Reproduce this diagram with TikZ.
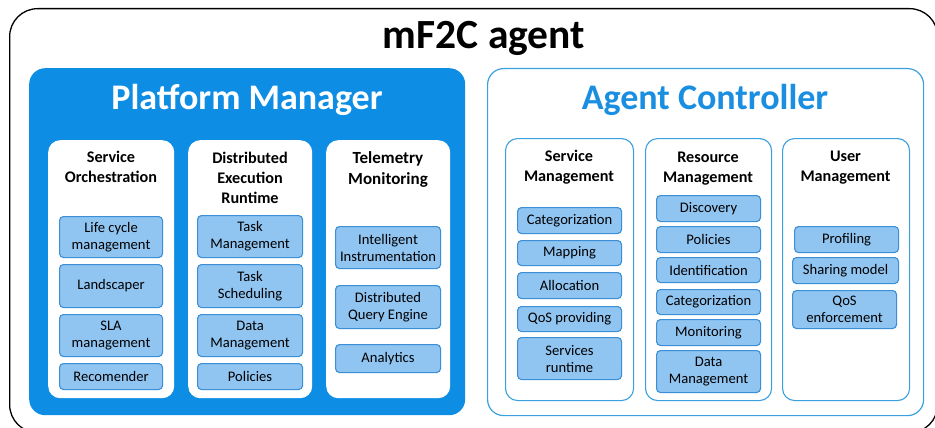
\documentclass[tikz,border=0pt]{standalone}
\usepackage{fontspec}
\setmainfont{Carlito}
\definecolor{pmblue}{HTML}{0E8DE4}
\definecolor{acblue}{HTML}{3AA0DE}
\definecolor{actext}{HTML}{1A8FE2}
\definecolor{ifill}{HTML}{90C4F1}
\definecolor{iborder}{HTML}{3A8FD6}
\begin{document}
\begin{tikzpicture}[x=1pt,y=-1pt,
  outerbox/.style={draw=black,line width=1.3pt,rounded corners=28pt,anchor=north west,inner sep=0pt},
  pmbox/.style={fill=pmblue,draw=none,rounded corners=16pt,anchor=north west,inner sep=0pt},
  acbox/.style={draw=acblue,line width=1.2pt,fill=white,rounded corners=16pt,anchor=north west,inner sep=0pt},
  pmpanel/.style={fill=white,draw=none,rounded corners=12pt,anchor=north west,inner sep=0pt,minimum width=126pt,minimum height=258pt},
  acpanel/.style={fill=white,draw=acblue,line width=1.1pt,rounded corners=12pt,anchor=north west,inner sep=0pt,minimum height=262pt},
  ibox/.style={fill=ifill,draw=iborder,line width=1.1pt,rounded corners=4pt,anchor=north west,inner sep=0pt,align=center,font=\fontsize{14.6}{17}\selectfont},
  ptitle/.style={align=center,font=\bfseries\fontsize{16.2}{20}\selectfont,inner sep=0pt}
]
\useasboundingbox (0,0) rectangle (935,428);
\node[outerbox,minimum width=928pt,minimum height=424pt] (outer) at (9,8) {};
\node[font=\bfseries\fontsize{41.5}{42}\selectfont,inner sep=0pt] (t) at (484,38) {mF2C agent};

% Platform Manager
\node[pmbox,minimum width=436pt,minimum height=347pt] (pm) at (29,68) {};
\node[font=\bfseries\fontsize{36}{38}\selectfont,text=white,inner sep=0pt] (pmt) at (247,100) {Platform Manager};
\node[pmpanel] (so) at (48,140) {};
\node[pmpanel,minimum width=124pt] (der) at (188,140) {};
\node[pmpanel,minimum width=124pt] (tmon) at (326,140) {};
\node[ptitle] (sot) at (111,167) {Service\\Orchestration};
\node[ptitle] (dert) at (250,178) {Distributed\\Execution\\Runtime};
\node[ptitle,font=\bfseries\fontsize{17}{21}\selectfont] (tmt) at (388,169.5) {Telemetry\\Monitoring};

\node[ibox,minimum width=103pt,minimum height=41pt] (lc) at (59,216) {Life cycle\\management};
\node[ibox,minimum width=103pt,minimum height=43pt] (land) at (59,264) {Landscaper};
\node[ibox,minimum width=103pt,minimum height=42pt] (sla) at (59,314) {SLA\\management};
\node[ibox,minimum width=103pt,minimum height=26pt] (rec) at (59,363) {Recomender};

\node[ibox,minimum width=105pt,minimum height=42pt] (tm) at (197,215) {Task\\Management};
\node[ibox,minimum width=105pt,minimum height=43pt] (ts) at (197,264) {Task\\Scheduling};
\node[ibox,minimum width=105pt,minimum height=42pt] (dm) at (197,314) {Data\\Management};
\node[ibox,minimum width=105pt,minimum height=26pt] (pol) at (197,363) {Policies};

\node[ibox,minimum width=105pt,minimum height=42pt] (ii) at (335,226) {Intelligent\\Instrumentation};
\node[ibox,minimum width=105pt,minimum height=43pt] (dqe) at (335,285) {Distributed\\Query Engine};
\node[ibox,minimum width=105pt,minimum height=28pt] (ana) at (335,344) {Analytics};

% Agent Controller
\node[acbox,minimum width=436pt,minimum height=347pt] (ac) at (487,68) {};
\node[font=\bfseries\fontsize{36}{38}\selectfont,text=actext,inner sep=0pt] (act) at (705,100) {Agent Controller};
\node[acpanel,minimum width=128pt] (sm) at (505,138) {};
\node[acpanel,minimum width=126pt] (rm) at (645,138) {};
\node[acpanel,minimum width=127pt] (um) at (782,138) {};
\node[ptitle] (smt) at (569,167) {Service\\Management};
\node[ptitle] (rmt) at (708,168.5) {Resource\\Management};
\node[ptitle] (umt) at (845.5,167.5) {User\\Management};

\node[ibox,minimum width=104pt,minimum height=26pt] (cat) at (517,207) {Categorization};
\node[ibox,minimum width=104pt,minimum height=25pt] (map) at (517,240) {Mapping};
\node[ibox,minimum width=104pt,minimum height=26pt] (alloc) at (517,272) {Allocation};
\node[ibox,minimum width=104pt,minimum height=25pt] (qos) at (517,306) {QoS providing};
\node[ibox,minimum width=104pt,minimum height=42pt] (sr) at (517,337) {Services\\runtime};

\node[ibox,minimum width=104pt,minimum height=26pt] (disc) at (656,195) {Discovery};
\node[ibox,minimum width=104pt,minimum height=26pt] (pol2) at (656,226) {Policies};
\node[ibox,minimum width=104pt,minimum height=25pt] (ident) at (656,257) {Identification};
\node[ibox,minimum width=104pt,minimum height=25pt] (cat2) at (656,289) {Categorization};
\node[ibox,minimum width=104pt,minimum height=26pt] (mon) at (656,319) {Monitoring};
\node[ibox,minimum width=104pt,minimum height=42pt] (dm2) at (656,350) {Data\\Management};

\node[ibox,minimum width=104pt,minimum height=26pt] (prof) at (794,226) {Profiling};
\node[ibox,minimum width=106pt,minimum height=26pt] (share) at (792,257) {Sharing model};
\node[ibox,minimum width=104pt,minimum height=38pt] (qose) at (792,290) {QoS\\enforcement};
\end{tikzpicture}
\end{document}
